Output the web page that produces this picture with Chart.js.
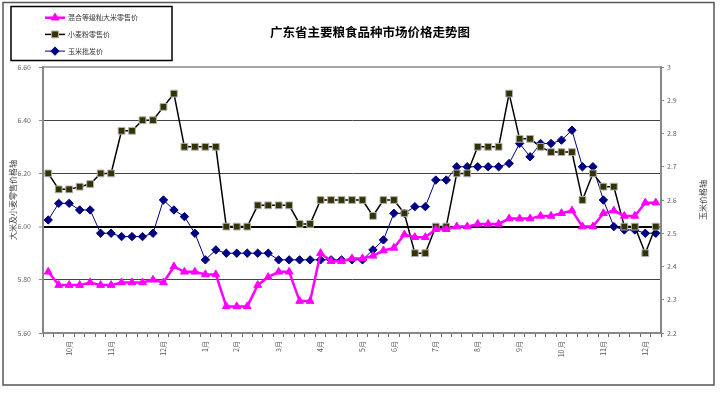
<!DOCTYPE html>
<html>
<head>
<meta charset="utf-8">
<script src="https://cdn.jsdelivr.net/npm/chart.js@4.4.0/dist/chart.umd.min.js"></script>
<style>
  html, body { margin: 0; padding: 0; background: #fff; }
  #priceChart { display: block; }
</style>
</head>
<body>
<canvas id="priceChart" width="720" height="394"></canvas>
<script>
const chartTitle = '广东省主要粮食品种市场价格走势图';
const leftAxisTitle = '大米及小麦零售价格轴';
const rightAxisTitle = '玉米价格轴';

const seriesNames = ['混合等级籼大米零售价', '小麦粉零售价', '玉米批发价'];

// one label per week, month name only where the original shows it
const weekLabels = [
  '', '', '10月', '', '', '', '11月', '', '', '', '',
  '12月', '', '', '', '1月', '', '', '2月', '', '', '',
  '3月', '', '', '', '4月', '', '', '', '5月', '', '',
  '6月', '', '', '', '7月', '', '', '', '8月', '', '',
  '', '9月', '', '', '', '10 月', '', '', '', '11月', '', '',
  '', '12月', ''
];

const riceValues = [
  5.83, 5.78, 5.78, 5.78, 5.79, 5.78, 5.78, 5.79, 5.79, 5.79,
  5.80, 5.79, 5.85, 5.83, 5.83, 5.82, 5.82, 5.70, 5.70, 5.70,
  5.78, 5.81, 5.83, 5.83, 5.72, 5.72, 5.90, 5.87, 5.87, 5.88,
  5.88, 5.89, 5.91, 5.92, 5.97, 5.96, 5.96, 5.99, 5.99, 6.00,
  6.00, 6.01, 6.01, 6.01, 6.03, 6.03, 6.03, 6.04, 6.04, 6.05,
  6.06, 6.00, 6.00, 6.05, 6.06, 6.04, 6.04, 6.09, 6.09
];

const wheatValues = [
  6.20, 6.14, 6.14, 6.15, 6.16, 6.20, 6.20, 6.36, 6.36, 6.40,
  6.40, 6.45, 6.50, 6.30, 6.30, 6.30, 6.30, 6.00, 6.00, 6.00,
  6.08, 6.08, 6.08, 6.08, 6.01, 6.01, 6.10, 6.10, 6.10, 6.10,
  6.10, 6.04, 6.10, 6.10, 6.05, 5.90, 5.90, 6.00, 6.00, 6.20,
  6.20, 6.30, 6.30, 6.30, 6.50, 6.33, 6.33, 6.30, 6.28, 6.28,
  6.28, 6.10, 6.20, 6.15, 6.15, 6.00, 6.00, 5.90, 6.00
];

const cornValues = [
  2.54, 2.59, 2.59, 2.57, 2.57, 2.50, 2.50, 2.49, 2.49, 2.49,
  2.50, 2.60, 2.57, 2.55, 2.50, 2.42, 2.45, 2.44, 2.44, 2.44,
  2.44, 2.44, 2.42, 2.42, 2.42, 2.42, 2.42, 2.42, 2.42, 2.42,
  2.42, 2.45, 2.48, 2.56, 2.56, 2.58, 2.58, 2.66, 2.66, 2.70,
  2.70, 2.70, 2.70, 2.70, 2.71, 2.77, 2.73, 2.77, 2.77, 2.78,
  2.81, 2.70, 2.70, 2.60, 2.52, 2.51, 2.51, 2.50, 2.50
];

const leftRange = [5.6, 6.6, 0.2];
const rightRange = [2.2, 3.0, 0.1];

const cjkFont = '"Noto Sans CJK SC", "DejaVu Sans", sans-serif';
Chart.defaults.font.family = cjkFont;

const framePlugin = {
  id: 'frame',
  beforeDraw(chart) {
    const ctx = chart.ctx;
    ctx.save();
    ctx.fillStyle = '#fff';
    ctx.fillRect(0, 0, chart.width, chart.height);
    ctx.strokeStyle = '#555';
    ctx.lineWidth = 1.5;
    ctx.strokeRect(3, 2.5, 711, 382.5);
    ctx.restore();
  },
  beforeDatasetsDraw(chart) {
    const { ctx, chartArea } = chart;
    ctx.save();
    ctx.strokeStyle = '#888';
    ctx.lineWidth = 1.5;
    ctx.beginPath();
    ctx.moveTo(chartArea.left, chartArea.top);
    ctx.lineTo(chartArea.right, chartArea.top);
    ctx.stroke();
    ctx.restore();
  },
  afterDraw(chart) {
    const { ctx, chartArea } = chart;
    const midY = (chartArea.top + chartArea.bottom) / 2;
    ctx.save();

    // title
    ctx.fillStyle = '#000';
    ctx.font = 'bold 12.5px ' + cjkFont;
    ctx.textAlign = 'center';
    ctx.textBaseline = 'middle';
    ctx.fillText(chartTitle, 370, 32);

    // axis titles, both read bottom to top
    ctx.font = '8px ' + cjkFont;
    ctx.fillStyle = '#444';
    [[13, leftAxisTitle], [703, rightAxisTitle]].forEach(([x, text]) => {
      ctx.save();
      ctx.translate(x, midY);
      ctx.rotate(-Math.PI / 2);
      ctx.fillText(text, 0, 0);
      ctx.restore();
    });

    // legend box
    ctx.strokeStyle = '#000';
    ctx.lineWidth = 1.5;
    ctx.strokeRect(11, 6.5, 161, 54);
    ctx.font = '7px ' + cjkFont;
    ctx.textAlign = 'left';
    chart.data.datasets.forEach((ds, i) => {
      const y = 17.7 + i * 16.7;
      ctx.strokeStyle = ds.borderColor;
      ctx.lineWidth = ds.borderWidth;
      ctx.beginPath();
      ctx.moveTo(45, y);
      ctx.lineTo(65, y);
      ctx.stroke();
      ctx.fillStyle = ds.pointBackgroundColor;
      ctx.strokeStyle = ds.pointBorderColor;
      ctx.lineWidth = ds.pointBorderWidth;
      Chart.helpers.drawPoint(ctx, {
        pointStyle: ds.pointStyle,
        radius: ds.pointRadius,
        rotation: 0,
        borderWidth: ds.pointBorderWidth
      }, 55, y);
      ctx.fillStyle = '#333';
      ctx.fillText(ds.label, 68, y);
    });
    ctx.restore();
  }
};

const isValue = (v, target) => Math.abs(v - target) < 1e-6;

new Chart(document.getElementById('priceChart'), {
  type: 'line',
  data: {
    labels: weekLabels,
    datasets: [{
      label: seriesNames[0],
      data: riceValues,
      yAxisID: 'y',
      borderColor: '#ff00ff',
      borderWidth: 2.5,
      pointStyle: 'triangle',
      pointRadius: 4.5,
      pointBackgroundColor: '#ff00ff',
      pointBorderColor: '#ff00ff',
      pointBorderWidth: 1,
      tension: 0
    },
    {
      label: seriesNames[1],
      data: wheatValues,
      yAxisID: 'y',
      borderColor: '#000000',
      borderWidth: 1.5,
      pointStyle: 'rect',
      pointRadius: 4.8,
      pointBackgroundColor: '#333300',
      pointBorderColor: '#b0b0b0',
      pointBorderWidth: 1,
      tension: 0
    },
    {
      label: seriesNames[2],
      data: cornValues,
      yAxisID: 'y1',
      borderColor: '#000080',
      borderWidth: 1,
      pointStyle: 'rectRot',
      pointRadius: 4.2,
      pointBackgroundColor: '#000080',
      pointBorderColor: '#000080',
      pointBorderWidth: 1,
      tension: 0
    }]
  },
  options: {
    responsive: false,
    animation: false,
    layout: { padding: { top: 67, left: 0, right: 0, bottom: 0 } },
    plugins: {
      legend: { display: false },
      tooltip: { enabled: false },
      title: { display: false }
    },
    scales: {
      x: {
        offset: true,
        afterFit: (s) => { s.height = 61; },
        border: { color: '#888', width: 2 },
        grid: { drawOnChartArea: false, offset: true, tickLength: 4, color: '#666' },
        ticks: {
          autoSkip: false,
          minRotation: 90,
          maxRotation: 90,
          padding: 4,
          color: '#555',
          font: { size: 7 }
        }
      },
      y: {
        position: 'left',
        min: leftRange[0],
        max: leftRange[1],
        afterFit: (s) => { s.width = 43; },
        border: { color: '#888', width: 2 },
        grid: {
          color: (c) => {
            const v = c.tick.value;
            if (isValue(v, 6)) return '#000';
            if (isValue(v, leftRange[0]) || isValue(v, leftRange[1])) return 'rgba(0,0,0,0)';
            return '#444';
          },
          lineWidth: (c) => isValue(c.tick.value, 6) ? 2 : 1,
          tickColor: '#888',
          tickWidth: 1,
          tickLength: 4
        },
        ticks: {
          stepSize: leftRange[2],
          padding: 8,
          color: '#666',
          font: { size: 7 },
          callback: (v) => v.toFixed(2)
        }
      },
      y1: {
        position: 'right',
        min: rightRange[0],
        max: rightRange[1],
        afterFit: (s) => { s.width = 59; },
        border: { color: '#888', width: 2 },
        grid: { drawOnChartArea: false, tickLength: 3, color: '#888' },
        ticks: {
          stepSize: rightRange[2],
          padding: 3,
          color: '#666',
          font: { size: 7 },
          callback: (v) => isValue(v, 3) ? '3' : v.toFixed(1)
        }
      }
    }
  },
  plugins: [framePlugin]
});
</script>
</body>
</html>
